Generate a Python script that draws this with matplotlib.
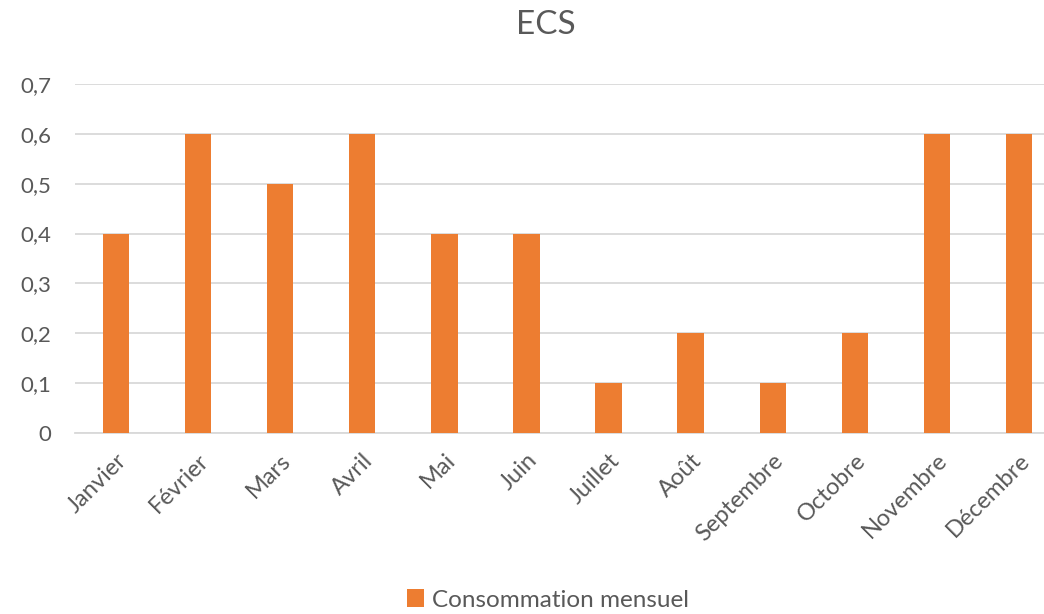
import matplotlib.pyplot as plt
from matplotlib.patches import Patch
from matplotlib.ticker import FuncFormatter

plt.rcParams['font.family'] = ['Lato', 'DejaVu Sans']

months = ["Janvier", "Février", "Mars", "Avril", "Mai", "Juin", "Juillet",
          "Août", "Septembre", "Octobre", "Novembre", "Décembre"]
consommation = [0.4, 0.6, 0.5, 0.6, 0.4, 0.4, 0.1, 0.2, 0.1, 0.2, 0.6, 0.6]
y_ticks = [0, 0.1, 0.2, 0.3, 0.4, 0.5, 0.6, 0.7]

text_color = "#595959"
bar_color = "#ED7D31"
grid_color = "#D9D9D9"

fig = plt.figure(figsize=(10.44, 6.14), dpi=100)
# plot area runs past the right edge, like the cropped original
ax = fig.add_axes([75 / 1044, 181 / 614, 985 / 1044, 349 / 614])

x = list(range(len(months)))
ax.bar(x, consommation, width=0.32, color=bar_color, zorder=3)

ax.set_xlim(-0.5, len(months) - 0.5)
ax.set_ylim(0, 0.7)
ax.set_yticks(y_ticks)
ax.yaxis.set_major_formatter(FuncFormatter(lambda v, p: "0" if v == 0 else f"{v:.1f}".replace(".", ",")))
ax.grid(axis="y", color=grid_color, linewidth=1.3, zorder=0)
for s in ["top", "right", "left"]:
    ax.spines[s].set_visible(False)
ax.spines["bottom"].set_color(grid_color)
ax.spines["bottom"].set_linewidth(1.3)
ax.tick_params(axis="both", length=0, colors=text_color, labelsize=16)
ax.tick_params(axis="y", pad=17)

ax.set_xticks(x)
ax.set_xticklabels(months, rotation=45, ha="right", va="top", rotation_mode="anchor", fontsize=17)
ax.tick_params(axis="x", pad=12)

fig.text(546 / 1044, 1 - 25 / 614, "ECS", ha="center", va="center", fontsize=24, color=text_color)

handles = [Patch(facecolor=bar_color, edgecolor="none")]
fig.legend(handles, ["Consommation mensuel"], loc="center", bbox_to_anchor=(548 / 1044, 1 - 600 / 614),
           frameon=False, fontsize=17.5, labelcolor=text_color, handlelength=0.7, handleheight=0.7,
           handletextpad=0.3)

plt.savefig("out.png", dpi=100)
